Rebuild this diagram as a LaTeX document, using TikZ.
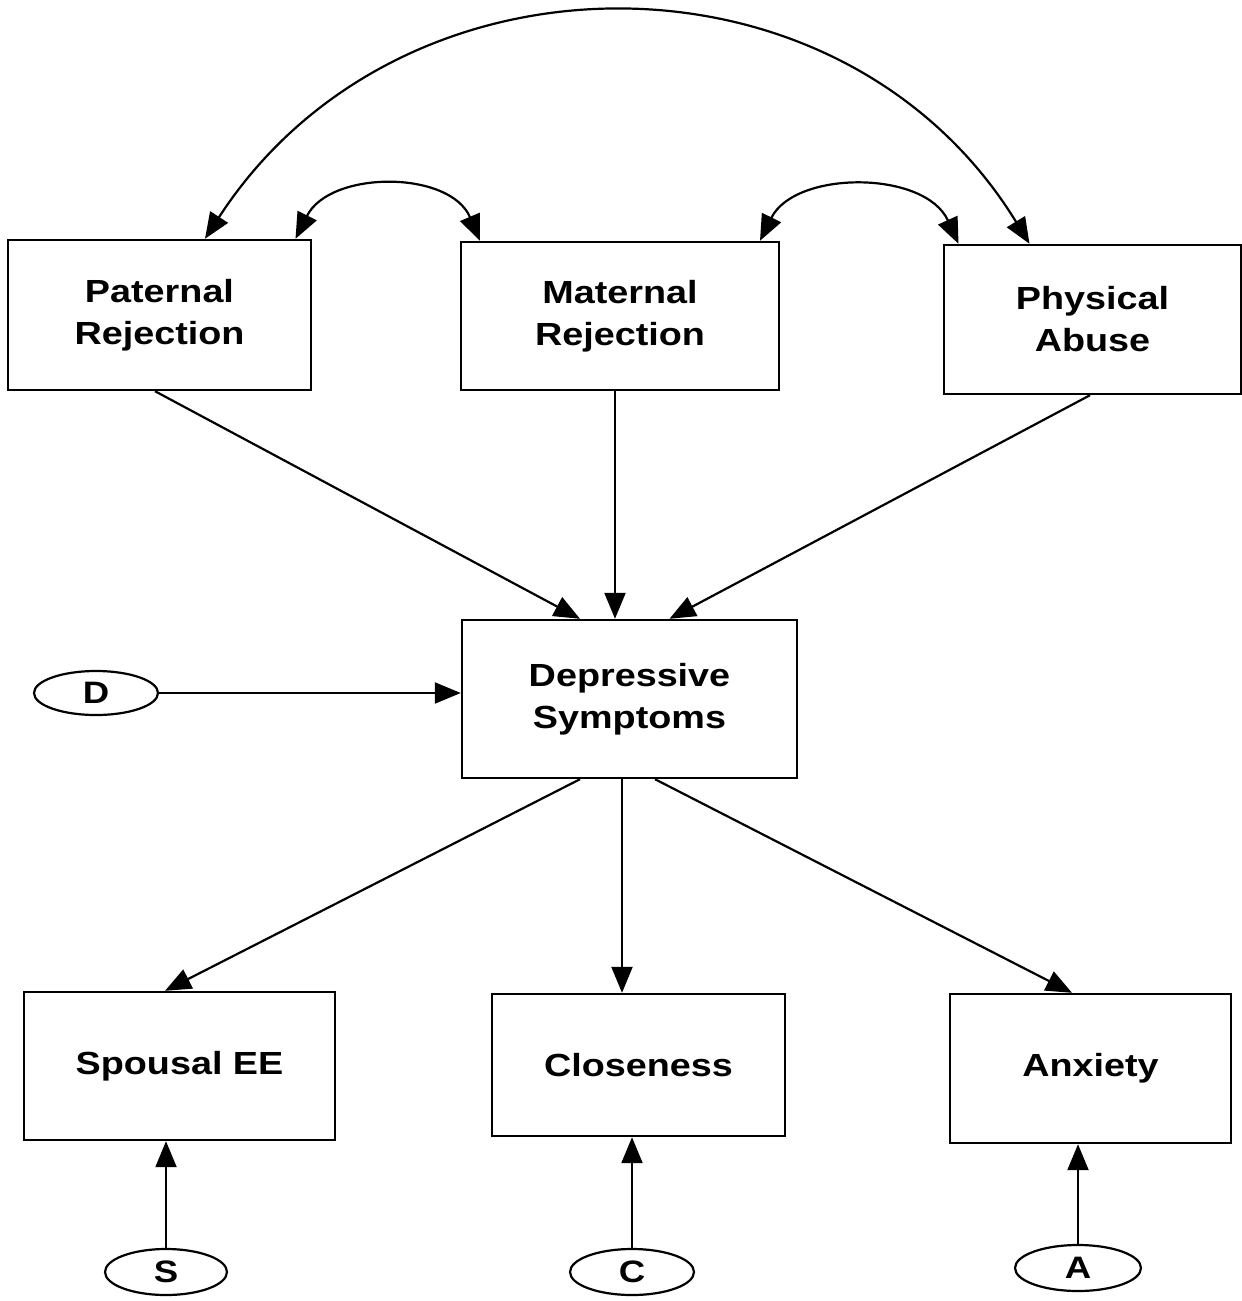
\documentclass[tikz,border=0pt]{standalone}
\usepackage{fontspec}
\setmainfont{Liberation Sans}[FakeStretch=1.18]
\usetikzlibrary{arrows.meta,shapes.geometric}

\begin{document}
\begin{tikzpicture}[x=0.5pt,y=-0.5pt,
  box/.style={draw,line width=1.2pt,rectangle,align=center,
    font=\fontsize{16pt}{21pt}\selectfont\bfseries},
  err/.style={draw,line width=1.1pt,ellipse,inner sep=0pt,
    font=\fontsize{15.5pt}{17pt}\selectfont\bfseries},
  path/.style={line width=1.1pt,-{Triangle[length=13pt,width=10.5pt]}},
  cov/.style={line width=1.1pt,{Triangle[length=13pt,width=10.5pt]}-{Triangle[length=13pt,width=10.5pt]}}]

\useasboundingbox (0,0) rectangle (1242,1301);

% exogenous variables
\node[box,minimum width=151.5pt,minimum height=75pt] (pat) at (159.5,315) {Paternal\\Rejection};
\node[box,minimum width=159pt,minimum height=74pt] (mat) at (620,316) {Maternal\\Rejection};
\node[box,minimum width=148.5pt,minimum height=74.5pt] (phy) at (1092.5,319.5) {Physical\\Abuse};

% mediator
\node[box,minimum width=167.5pt,minimum height=79pt] (dep) at (629.5,699) {Depressive\\Symptoms};
\node[err,minimum width=62pt,minimum height=22pt] (d) at (96,693) {D};

% outcomes
\node[box,minimum width=155.5pt,minimum height=74pt] (sp) at (179.5,1066) {Spousal EE};
\node[box,minimum width=146.5pt,minimum height=71pt] (cl) at (638.5,1065) {Closeness};
\node[box,minimum width=140.5pt,minimum height=74.5pt] (anx) at (1090.5,1068.5) {Anxiety};

\node[err,minimum width=61pt,minimum height=23pt] (s) at (166,1272) {S};
\node[err,minimum width=62pt,minimum height=23pt] (c) at (632,1272) {C};
\node[err,minimum width=63pt,minimum height=23pt] (a) at (1078,1268) {A};

% covariances among exogenous variables
\draw[cov] ([xshift=22.75pt]pat.north) .. controls (400,-62) and (842,-62) .. ([xshift=-31.5pt]phy.north);
\draw[cov] ([xshift=68pt]pat.north) .. controls (330,170) and (450,170) .. ([xshift=-70pt]mat.north);
\draw[cov] ([xshift=70pt]mat.north) .. controls (795,170) and (925,170) .. ([xshift=-67pt]phy.north);

% paths to depressive symptoms
\draw[path] ([xshift=-2.25pt]pat.south) -- ([xshift=-24.75pt]dep.north);
\draw[path] ([xshift=-2.5pt]mat.south) -- ([xshift=-7.25pt]dep.north);
\draw[path] ([xshift=-1.25pt]phy.south) -- ([xshift=20pt]dep.north);
\draw[path] (d.east) -- (d.east -| dep.west);

% paths to outcomes
\draw[path] ([xshift=-24.75pt]dep.south) -- ([xshift=-7.25pt]sp.north);
\draw[path] ([xshift=-3.75pt]dep.south) -- ([xshift=-3.75pt]dep.south |- cl.north);
\draw[path] ([xshift=12.75pt]dep.south) -- ([xshift=-9.25pt]anx.north);

% residuals
\draw[path] (s.north) -- (s.north |- sp.south);
\draw[path] (c.north) -- (c.north |- cl.south);
\draw[path] (a.north) -- (a.north |- anx.south);
\end{tikzpicture}
\end{document}
